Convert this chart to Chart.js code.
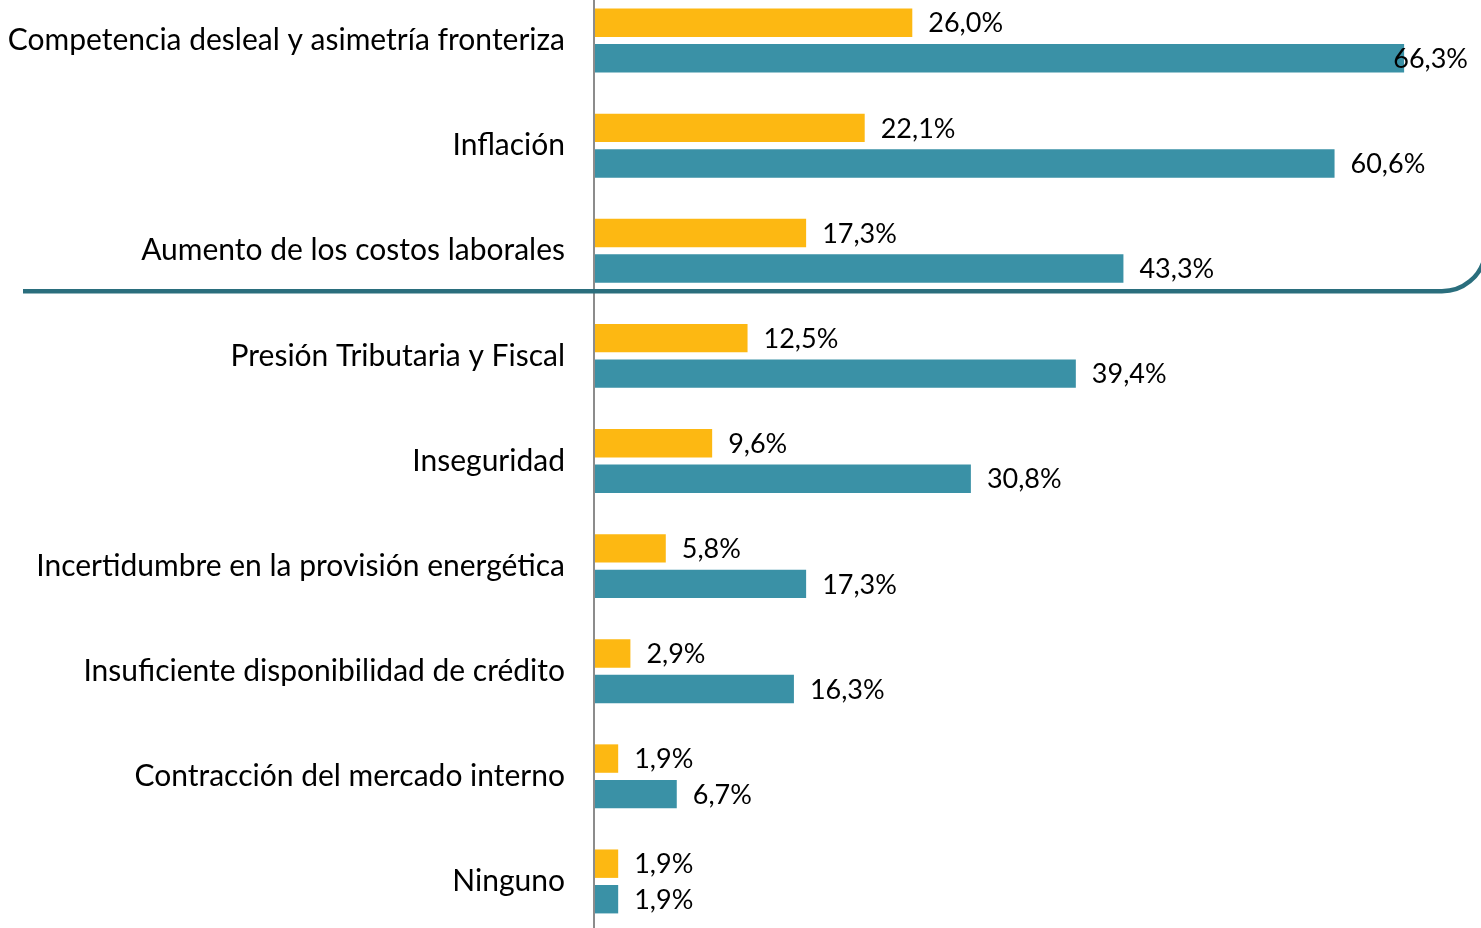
<!DOCTYPE html>
<html>
<head>
<meta charset="utf-8">
<script src="https://cdn.jsdelivr.net/npm/chart.js@4"></script>
<style>
  html, body { margin: 0; padding: 0; background: #fff; overflow: hidden; }
  #wrap { position: absolute; left: 0; top: -52px; width: 1481px; height: 1026px; }
</style>
</head>
<body>
<div id="wrap"><canvas id="chart"></canvas></div>
<script>
// Categories and values (%)
const categories = [
  "Competencia desleal y asimetría fronteriza",
  "Inflación",
  "Aumento de los costos laborales",
  "Presión Tributaria y Fiscal",
  "Inseguridad",
  "Incertidumbre en la provisión energética",
  "Insuficiente disponibilidad de crédito",
  "Contracción del mercado interno",
  "Ninguno",
]
const seriesPrincipal = [26.0, 22.1, 17.3, 12.5, 9.6, 5.8, 2.9, 1.9, 1.9]
const seriesTotal = [66.3, 60.6, 43.3, 39.4, 30.8, 17.3, 16.3, 6.7, 1.9]

const FONT = "Lato, 'Open Sans', sans-serif"
const fmt = (v) => v.toFixed(1).replace(".", ",") + "%"

// Value labels next to each bar
const valueLabels = {
  id: "valueLabels",
  afterDatasetsDraw(chart) {
    const { ctx } = chart
    ctx.save()
    ctx.font = "27px " + FONT
    ctx.fillStyle = "#000"
    ctx.textBaseline = "middle"
    chart.data.datasets.forEach((ds, i) => {
      chart.getDatasetMeta(i).data.forEach((bar, j) => {
        const txt = fmt(ds.data[j])
        const w = ctx.measureText(txt).width
        let x = bar.x + 16
        const maxX = chart.width - 13 - w
        if (x > maxX) x = maxX
        ctx.fillText(txt, x, bar.y + 1)
      })
    })
    ctx.restore()
  },
}

// Vertical axis line + separator under the top three
const decorations = {
  id: "decorations",
  beforeDatasetsDraw(chart) {
    const { ctx, chartArea } = chart
    ctx.save()
    ctx.strokeStyle = "#8c8c8c"
    ctx.lineWidth = 2
    ctx.beginPath()
    ctx.moveTo(chartArea.left - 1, 0)
    ctx.lineTo(chartArea.left - 1, chart.height)
    ctx.stroke()
    ctx.restore()
  },
  afterDatasetsDraw(chart) {
    const { ctx } = chart
    const y = (chart.scales.y.getPixelForValue(2) + chart.scales.y.getPixelForValue(3)) / 2 - 12
    ctx.save()
    ctx.strokeStyle = "#2a6e7d"
    ctx.lineWidth = 4.5
    ctx.beginPath()
    ctx.moveTo(23, y)
    ctx.lineTo(1440, y)
    ctx.arcTo(1478, y, 1484, y - 30, 44)
    ctx.stroke()
    ctx.restore()
  },
}

new Chart(document.getElementById("chart").getContext("2d"), {
  type: "bar",
  data: {
    labels: categories,
    datasets: [
      { data: seriesPrincipal, backgroundColor: "#fdb812" },
      { data: seriesTotal, backgroundColor: "#3a91a6" },
    ],
  },
  options: {
    indexAxis: "y",
    responsive: true,
    maintainAspectRatio: false,
    animation: false,
    categoryPercentage: 0.676,
    barPercentage: 0.8,
    layout: { padding: 0 },
    plugins: {
      legend: { display: false },
      tooltip: { enabled: false },
    },
    scales: {
      x: {
        min: 0,
        max: 72.6,
        display: false,
      },
      y: {
        grid: { display: false },
        border: { display: false },
        ticks: {
          color: "#000",
          font: { family: FONT, size: 30 },
          padding: 22,
        },
        afterFit(scale) {
          scale.width = 595
        },
      },
    },
  },
  plugins: [decorations, valueLabels],
})
</script>
</body>
</html>
